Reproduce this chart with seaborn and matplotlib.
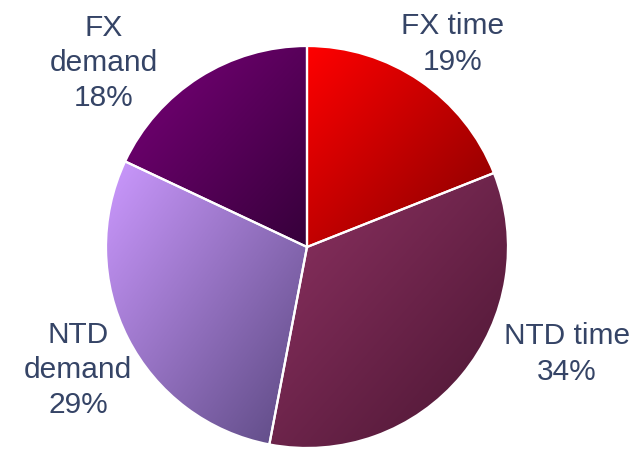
import numpy as np
import seaborn as sns
import matplotlib
matplotlib.use('Agg')
import matplotlib.pyplot as plt

labels = ['FX time', 'NTD time', 'NTD demand', 'FX demand']
shares = [19, 34, 29, 18]
label_text = ['FX time\n19%', 'NTD time\n34%', 'NTD\ndemand\n29%', 'FX\ndemand\n18%']

# light (top-left) -> dark (bottom-right) for each slice
grad_colors = [('#ff0000', '#840000'),
               ('#8f3263', '#4a1632'),
               ('#cc99ff', '#5a4880'),
               ('#7a007a', '#36003a')]

sns.set_style('white')
plt.rcParams['font.family'] = ['Liberation Sans', 'DejaVu Sans']

fig = plt.figure(figsize=(6.44, 4.5), dpi=100)
ax = fig.add_axes([0, 0, 1, 1])

cx, cy, r = 307, 450 - 247, 201
wedges, _ = ax.pie(shares, startangle=90, counterclock=False,
                   center=(cx, cy), radius=r,
                   colors=[c[0] for c in grad_colors],
                   wedgeprops=dict(edgecolor='white', linewidth=1.6))

for w, (c0, c1) in zip(wedges, grad_colors):
    cmap = sns.blend_palette([c0, c1], n_colors=256, as_cmap=True)
    bb = w.get_path().get_extents(w.get_patch_transform())
    x0, y0, x1, y1 = bb.x0, bb.y0, bb.x1, bb.y1
    xx, yy = np.meshgrid(np.linspace(0, 1, 200), np.linspace(0, 1, 200))
    t = (xx + yy) / 2  # image row 0 at top with origin='upper'
    im = ax.imshow(t, cmap=cmap, extent=(x0, x1, y0, y1), origin='upper',
                   vmin=0, vmax=1, interpolation='bilinear', zorder=1)
    im.set_clip_path(w)
    w.set_facecolor('none')
    w.set_zorder(2)

txt = '#354466'
fs = 21.5
positions = [(453, 450 - 44), (567, 450 - 354), (78, 450 - 370), (104, 450 - 63)]
for s, (x, y) in zip(label_text, positions):
    ax.text(x, y, s, ha='center', va='center', fontsize=fs, color=txt,
            linespacing=1.33)

ax.set_xlim(0, 644)
ax.set_ylim(0, 450)
ax.set_aspect('equal')
ax.axis('off')

fig.savefig('out.png', dpi=100)
